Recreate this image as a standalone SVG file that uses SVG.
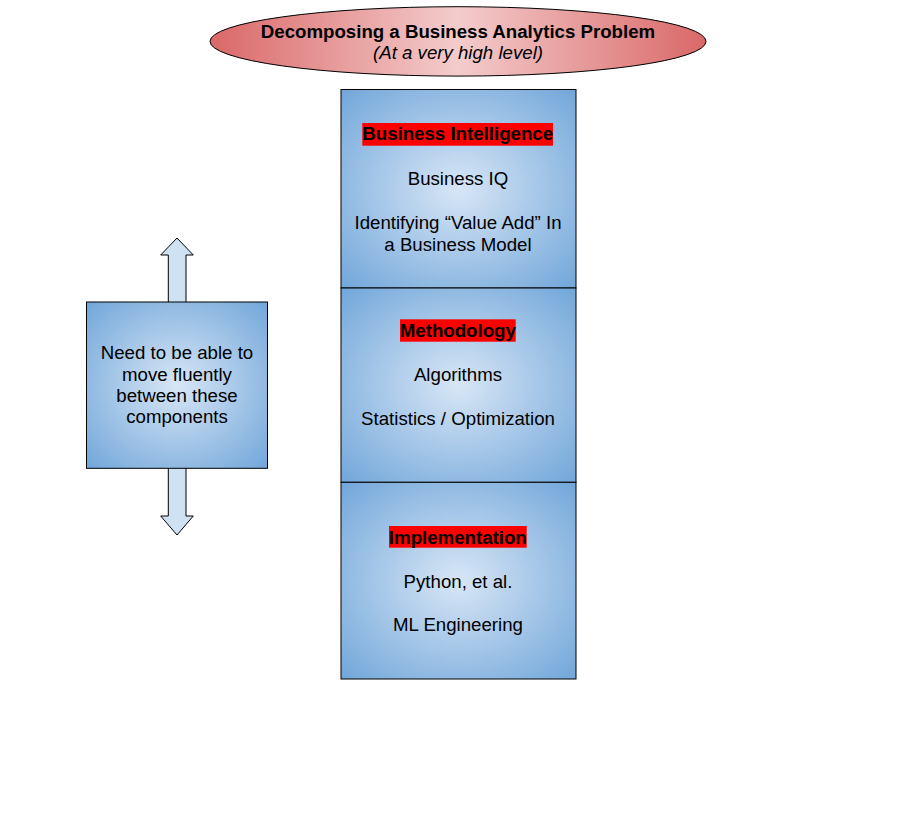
<svg xmlns="http://www.w3.org/2000/svg" width="918" height="820" viewBox="0 0 918 820">
  <defs>
    <linearGradient id="redGrad" x1="0" y1="0" x2="1" y2="0">
      <stop offset="0" stop-color="#da6868"/>
      <stop offset="0.5" stop-color="#f4cccc"/>
      <stop offset="1" stop-color="#da6868"/>
    </linearGradient>
    <radialGradient id="blueGrad" cx="0.5" cy="0.5" r="0.72">
      <stop offset="0" stop-color="#d8e6f6"/>
      <stop offset="1" stop-color="#6fa5d9"/>
    </radialGradient>
    <style>
      .box { fill: url(#blueGrad); stroke: #000; stroke-width: 1; }
      .hl { fill: #ff0000; }
      .t { font-family: "Liberation Sans", Arial, sans-serif; font-size: 18.67px; fill: #000; text-anchor: middle; }
      .b { font-weight: bold; }
    </style>
  </defs>
  <rect width="918" height="820" fill="#ffffff"/>

  <g id="connectors">
    <polygon points="177,238 193.3,255 186,255 186,516 193.3,516 177,535 160.7,516 168.3,516 168.3,255 160.7,255" fill="#cfe2f3" stroke="#000" stroke-width="1"/>
  </g>

  <g id="title">
    <ellipse cx="458" cy="41.4" rx="248" ry="34.7" fill="url(#redGrad)" stroke="#000" stroke-width="1"/>
    <text class="t b" x="458" y="37.7">Decomposing a Business Analytics Problem</text>
    <text class="t" x="458" y="58.8" font-style="italic">(At a very high level)</text>
  </g>

  <g id="business-intelligence">
    <rect class="box" x="341" y="89.5" width="235" height="198.5"/>
    <rect class="hl" x="362.3" y="123" width="190.7" height="22.7"/>
    <text class="t b" x="457.7" y="140.3">Business Intelligence</text>
    <text class="t" x="458" y="185.3">Business IQ</text>
    <text class="t" x="458" y="229.3">Identifying “Value Add” In</text>
    <text class="t" x="458" y="251">a Business Model</text>
  </g>

  <g id="methodology">
    <rect class="box" x="341" y="288" width="235" height="194.3"/>
    <rect class="hl" x="400" y="319.3" width="115.7" height="22.4"/>
    <text class="t b" x="457.8" y="337.1">Methodology</text>
    <text class="t" x="458" y="381.3">Algorithms</text>
    <text class="t" x="458" y="425.3">Statistics / Optimization</text>
  </g>

  <g id="implementation">
    <rect class="box" x="341" y="482.3" width="235" height="196.7"/>
    <rect class="hl" x="389" y="526" width="137.7" height="21.7"/>
    <text class="t b" x="457.8" y="543.5">Implementation</text>
    <text class="t" x="458" y="587.6">Python, et al.</text>
    <text class="t" x="458" y="631.3">ML Engineering</text>
  </g>

  <g id="note">
    <rect class="box" x="86.5" y="302" width="181" height="166.3"/>
    <text class="t" x="177" y="358.8">Need to be able to</text>
    <text class="t" x="177" y="380.5">move fluently</text>
    <text class="t" x="177" y="402.2">between these</text>
    <text class="t" x="177" y="423.2">components</text>
  </g>
</svg>
